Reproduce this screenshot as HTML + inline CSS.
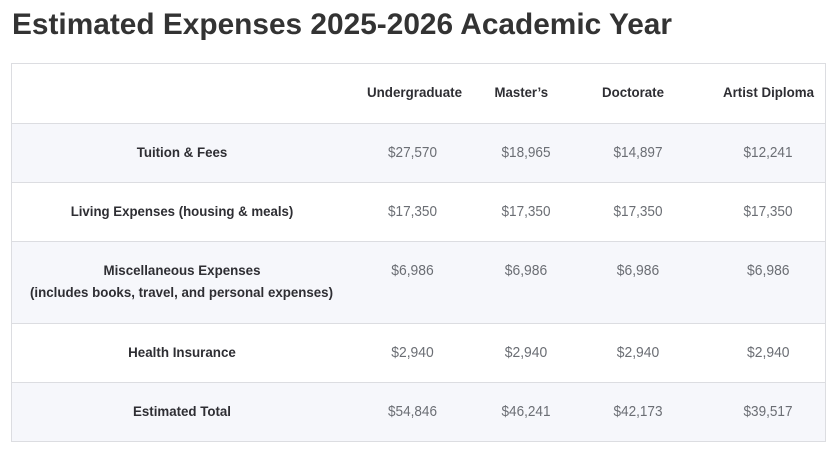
<!DOCTYPE html>
<html>
<head>
<meta charset="utf-8">
<style>
  html, body { margin: 0; padding: 0; background: #ffffff; }
  body { width: 837px; height: 452px; overflow: hidden; }
  svg { display: block; }
  .t { font-family: "Liberation Sans", Arial, sans-serif; }
  .title { font-size: 30px; font-weight: bold; fill: #333333; }
  .hd { font-size: 14px; font-weight: bold; fill: #2e2e33; }
  .lb { font-size: 14px; font-weight: bold; fill: #2e2e33; }
  .v { font-size: 15px; fill: #6b6e74; }
</style>
</head>
<body>
<svg width="837" height="452" viewBox="0 0 837 452" xmlns="http://www.w3.org/2000/svg">
  <rect x="0" y="0" width="837" height="452" fill="#ffffff"/>
  <text class="t title" x="12" y="34" textLength="660" lengthAdjust="spacingAndGlyphs">Estimated Expenses 2025-2026 Academic Year</text>

  <!-- table backgrounds -->
  <rect x="11" y="63" width="815" height="379" fill="#ffffff"/>
  <rect x="11" y="123" width="815" height="59" fill="#f6f7fb"/>
  <rect x="11" y="241" width="815" height="82" fill="#f6f7fb"/>
  <rect x="11" y="382" width="815" height="59" fill="#f6f7fb"/>

  <!-- borders -->
  <rect x="11.5" y="63.5" width="814" height="378" fill="none" stroke="#dcdde1" stroke-width="1"/>
  <line x1="11" y1="123.5" x2="826" y2="123.5" stroke="#dcdde1" stroke-width="1"/>
  <line x1="11" y1="182.5" x2="826" y2="182.5" stroke="#dcdde1" stroke-width="1"/>
  <line x1="11" y1="241.5" x2="826" y2="241.5" stroke="#dcdde1" stroke-width="1"/>
  <line x1="11" y1="323.5" x2="826" y2="323.5" stroke="#dcdde1" stroke-width="1"/>
  <line x1="11" y1="382.5" x2="826" y2="382.5" stroke="#dcdde1" stroke-width="1"/>

  <!-- header -->
  <text class="t hd" x="414.5" y="97" text-anchor="middle" textLength="95" lengthAdjust="spacingAndGlyphs">Undergraduate</text>
  <text class="t hd" x="521.3" y="97" text-anchor="middle" textLength="53.5" lengthAdjust="spacingAndGlyphs">Master’s</text>
  <text class="t hd" x="633" y="97" text-anchor="middle" textLength="62" lengthAdjust="spacingAndGlyphs">Doctorate</text>
  <text class="t hd" x="768.5" y="97" text-anchor="middle" textLength="91" lengthAdjust="spacingAndGlyphs">Artist Diploma</text>

  <!-- row labels -->
  <text class="t lb" x="182" y="157" text-anchor="middle" textLength="90.6" lengthAdjust="spacingAndGlyphs">Tuition &amp; Fees</text>
  <text class="t lb" x="182" y="216" text-anchor="middle" textLength="222.6" lengthAdjust="spacingAndGlyphs">Living Expenses (housing &amp; meals)</text>
  <text class="t lb" x="182" y="275" text-anchor="middle" textLength="157" lengthAdjust="spacingAndGlyphs">Miscellaneous Expenses</text>
  <text class="t lb" x="181.5" y="297" text-anchor="middle" textLength="303" lengthAdjust="spacingAndGlyphs">(includes books, travel, and personal expenses)</text>
  <text class="t lb" x="182" y="357" text-anchor="middle" textLength="107.7" lengthAdjust="spacingAndGlyphs">Health Insurance</text>
  <text class="t lb" x="182" y="416" text-anchor="middle" textLength="98" lengthAdjust="spacingAndGlyphs">Estimated Total</text>

  <!-- values: tuition -->
  <text class="t v" x="412.5" y="157" text-anchor="middle" textLength="49" lengthAdjust="spacingAndGlyphs">$27,570</text>
  <text class="t v" x="526" y="157" text-anchor="middle" textLength="49" lengthAdjust="spacingAndGlyphs">$18,965</text>
  <text class="t v" x="638" y="157" text-anchor="middle" textLength="49" lengthAdjust="spacingAndGlyphs">$14,897</text>
  <text class="t v" x="768" y="157" text-anchor="middle" textLength="49" lengthAdjust="spacingAndGlyphs">$12,241</text>

  <!-- living -->
  <text class="t v" x="412.5" y="216" text-anchor="middle" textLength="49" lengthAdjust="spacingAndGlyphs">$17,350</text>
  <text class="t v" x="526" y="216" text-anchor="middle" textLength="49" lengthAdjust="spacingAndGlyphs">$17,350</text>
  <text class="t v" x="638" y="216" text-anchor="middle" textLength="49" lengthAdjust="spacingAndGlyphs">$17,350</text>
  <text class="t v" x="768" y="216" text-anchor="middle" textLength="49" lengthAdjust="spacingAndGlyphs">$17,350</text>

  <!-- misc -->
  <text class="t v" x="412.5" y="275" text-anchor="middle" textLength="42.5" lengthAdjust="spacingAndGlyphs">$6,986</text>
  <text class="t v" x="526" y="275" text-anchor="middle" textLength="42.5" lengthAdjust="spacingAndGlyphs">$6,986</text>
  <text class="t v" x="638" y="275" text-anchor="middle" textLength="42.5" lengthAdjust="spacingAndGlyphs">$6,986</text>
  <text class="t v" x="768.3" y="275" text-anchor="middle" textLength="42.5" lengthAdjust="spacingAndGlyphs">$6,986</text>

  <!-- health -->
  <text class="t v" x="412.5" y="357" text-anchor="middle" textLength="42.5" lengthAdjust="spacingAndGlyphs">$2,940</text>
  <text class="t v" x="526" y="357" text-anchor="middle" textLength="42.5" lengthAdjust="spacingAndGlyphs">$2,940</text>
  <text class="t v" x="638" y="357" text-anchor="middle" textLength="42.5" lengthAdjust="spacingAndGlyphs">$2,940</text>
  <text class="t v" x="768.3" y="357" text-anchor="middle" textLength="42.5" lengthAdjust="spacingAndGlyphs">$2,940</text>

  <!-- total -->
  <text class="t v" x="412.5" y="416" text-anchor="middle" textLength="49" lengthAdjust="spacingAndGlyphs">$54,846</text>
  <text class="t v" x="526" y="416" text-anchor="middle" textLength="49" lengthAdjust="spacingAndGlyphs">$46,241</text>
  <text class="t v" x="638" y="416" text-anchor="middle" textLength="49" lengthAdjust="spacingAndGlyphs">$42,173</text>
  <text class="t v" x="768" y="416" text-anchor="middle" textLength="49" lengthAdjust="spacingAndGlyphs">$39,517</text>
</svg>
</body>
</html>
